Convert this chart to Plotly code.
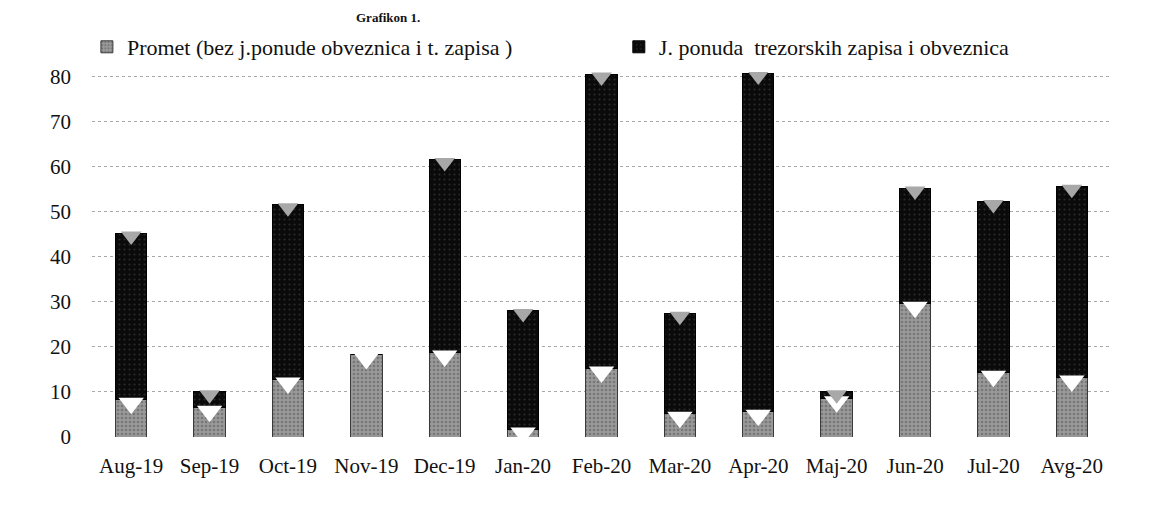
import plotly.graph_objects as go

months = ["Aug-19", "Sep-19", "Oct-19", "Nov-19", "Dec-19", "Jan-20", "Feb-20",
          "Mar-20", "Apr-20", "Maj-20", "Jun-20", "Jul-20", "Avg-20"]
promet = [8.3, 6.5, 12.8, 18.2, 18.8, 1.7, 15.2, 5.2, 5.6, 8.6, 29.6, 14.3, 13.2]
ponuda = [36.9, 3.5, 38.7, 0.0, 42.7, 26.3, 65.3, 22.2, 75.1, 1.4, 25.6, 37.9, 42.4]

name_promet = "Promet (bez j.ponude obveznica i t. zapisa )"
name_ponuda = "J. ponuda  trezorskih zapisa i obveznica"
y_ticks = [0, 10, 20, 30, 40, 50, 60, 70, 80]

totals = [p + q for p, q in zip(promet, ponuda)]
serif = "Liberation Serif"

fig = go.Figure()
fig.add_trace(go.Bar(
    x=months, y=promet, name=name_promet, legend="legend",
    marker=dict(color="#858585", line=dict(color="#3a3a3a", width=1),
                pattern=dict(shape=".", fgcolor="#555555", bgcolor="#999999", size=4, solidity=0.35)),
))
fig.add_trace(go.Bar(
    x=months, y=ponuda, name=name_ponuda, legend="legend2",
    marker=dict(color="#0d0d0d", line=dict(color="#000000", width=1),
                pattern=dict(shape=".", fgcolor="#4a4a4a", bgcolor="#0a0a0a", size=5, solidity=0.15)),
))
# cylinder-style highlights at the top of each segment
fig.add_trace(go.Scatter(
    x=months, y=[p - 0.8 for p in promet], mode="markers", showlegend=False, hoverinfo="skip",
    marker=dict(symbol="triangle-down", size=22, color="white", line=dict(width=0)),
))
fig.add_trace(go.Scatter(
    x=[m for m, q in zip(months, ponuda) if q > 0],
    y=[t - 0.6 for t, q in zip(totals, ponuda) if q > 0],
    mode="markers", showlegend=False, hoverinfo="skip",
    marker=dict(symbol="triangle-down", size=18, color="#a8a8a8", line=dict(width=0)),
))

legend_common = dict(orientation="h", yanchor="middle", y=1.0 + 25 / 365,
                     xanchor="left", bgcolor="rgba(0,0,0,0)", itemwidth=30,
                     font=dict(size=22, family=serif, color="#111111"))

fig.update_layout(
    barmode="stack",
    bargap=0.6,
    width=1162, height=524,
    margin=dict(l=84, r=59, t=64, b=95),
    paper_bgcolor="white", plot_bgcolor="white",
    font=dict(family=serif, color="#111111", size=21),
    showlegend=True,
    legend=dict(x=-0.005, **legend_common),
    legend2=dict(x=0.517, **legend_common),
    annotations=[dict(text="<b>Grafikon 1.</b>", xref="paper", yref="paper",
                      x=0.29, y=1.0 + 64 / 365, xanchor="center", yanchor="top",
                      showarrow=False, font=dict(size=13, family=serif))],
)
fig.update_xaxes(range=[-0.5, 12.5], showgrid=False, showline=False, ticks="",
                 tickfont=dict(size=21, family=serif), ticklabelstandoff=14)
fig.update_yaxes(range=[0, 81], tickvals=y_ticks, showgrid=True, gridcolor="#a8a8a8",
                 griddash="dot", gridwidth=1, zeroline=False, showline=False,
                 tickfont=dict(size=21, family=serif), ticklabelstandoff=20)

fig.write_html("out.html")
